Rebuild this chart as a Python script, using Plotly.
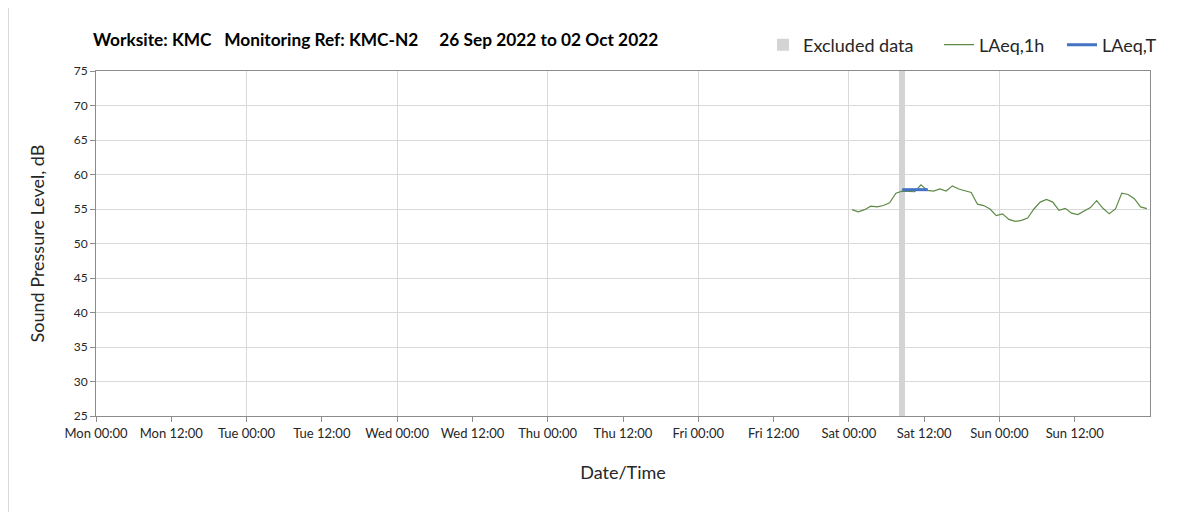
import plotly.graph_objects as go
import pandas as pd

# ---- data ----
title_text = "Worksite: KMC\u00a0\u00a0\u00a0Monitoring Ref: KMC-N2\u00a0\u00a0\u00a0\u00a0\u00a026 Sep 2022 to 02 Oct 2022"

# hourly LAeq,1h values (plotted at mid-hour), Sat 01 Oct 00:00 -> Sun 02 Oct 23:00
laeq_1h_start = "2022-10-01 00:30"
laeq_1h = [
    54.9, 54.6, 54.9, 55.4, 55.3, 55.5, 55.9, 57.3, 57.6, 57.6, 57.5, 58.5,
    57.7, 57.6, 57.9, 57.6, 58.35, 57.9, 57.7, 57.4, 55.7, 55.5, 55.0, 54.05,
    54.3, 53.5, 53.2, 53.35, 53.7, 55.0, 56.0, 56.4, 56.0, 54.8, 55.1, 54.4,
    54.2, 54.7, 55.2, 56.2, 55.1, 54.3, 55.0, 57.3, 57.1, 56.5, 55.3, 55.05,
]

laeq_t_times = ["2022-10-01 08:30", "2022-10-01 12:35"]
laeq_t_values = [57.8, 57.8]

excluded_center = ["2022-10-01 08:28"]
excluded_top = [75]
excluded_base = 25
excluded_width_ms = 0.9 * 3600 * 1000

tick_vals = ["2022-09-26 00:00", "2022-09-26 12:00", "2022-09-27 00:00", "2022-09-27 12:00",
             "2022-09-28 00:00", "2022-09-28 12:00", "2022-09-29 00:00", "2022-09-29 12:00",
             "2022-09-30 00:00", "2022-09-30 12:00", "2022-10-01 00:00", "2022-10-01 12:00",
             "2022-10-02 00:00", "2022-10-02 12:00"]
tick_text = ["Mon 00:00", "Mon 12:00", "Tue 00:00", "Tue 12:00", "Wed 00:00", "Wed 12:00",
             "Thu 00:00", "Thu 12:00", "Fri 00:00", "Fri 12:00", "Sat 00:00", "Sat 12:00",
             "Sun 00:00", "Sun 12:00"]
x_range = ["2022-09-26 00:00", "2022-10-03 00:00"]
y_range = [25, 75]

laeq_1h_times = pd.date_range(laeq_1h_start, periods=len(laeq_1h), freq="h")

FONT = "Lato, 'Open Sans', sans-serif"

# page body has an 8px margin; the figure is sized to fit the window
W, H = 1195, 504
L, R, T, B = 88, 53, 63, 96
PW, PH = W - L - R, H - T - B


def lx(page_x):
    return (page_x - 8 - L) / PW


LEG_Y = (T + PH - 37) / PH

fig = go.Figure()
fig.add_trace(go.Bar(
    x=excluded_center, y=[t - excluded_base for t in excluded_top], base=excluded_base,
    width=excluded_width_ms, marker=dict(color="#d4d4d4", line=dict(width=0)),
    name="Excluded data", hoverinfo="skip", legend="legend",
))
fig.add_trace(go.Scatter(
    x=laeq_1h_times, y=laeq_1h, mode="lines", name="LAeq,1h",
    line=dict(color="#5e8a47", width=1.2), legend="legend2",
))
fig.add_trace(go.Scatter(
    x=laeq_t_times, y=laeq_t_values, mode="lines", name="LAeq,T",
    line=dict(color="#4472c4", width=3), legend="legend3",
))

leg_common = dict(orientation="h", xanchor="left", y=LEG_Y, yanchor="middle",
                  font=dict(size=18, color="#262626"), itemwidth=30,
                  bgcolor="rgba(0,0,0,0)")

fig.update_layout(
    width=W, height=H,
    margin=dict(l=L, r=R, t=T, b=B, autoexpand=False),
    paper_bgcolor="white", plot_bgcolor="white",
    font=dict(family=FONT, color="#262626"),
    title=dict(text="<b>" + title_text + "</b>", x=85 / W, xanchor="left",
               y=1 - 32 / H, yanchor="middle", yref="container",
               font=dict(size=17.3, color="#000000", family=FONT)),
    showlegend=True,
    legend=dict(x=lx(763), **leg_common),
    legend2=dict(x=lx(939), **leg_common),
    legend3=dict(x=lx(1062), **leg_common),
    bargap=0,
    xaxis=dict(
        type="date", range=x_range, tickmode="array", tickvals=tick_vals, ticktext=tick_text,
        showgrid=False, ticks="outside", ticklen=5, tickcolor="#8c8c8c",
        showline=True, linecolor="#8c8c8c", linewidth=1, mirror=True,
        tickfont=dict(size=13, color="#262626"),
        title=dict(text="Date/Time", font=dict(size=18, color="#262626"), standoff=26),
        minor=dict(tickmode="linear", tick0="2022-09-26", dtick=86400000,
                   showgrid=True, gridcolor="#d9d9d9", gridwidth=1, ticks=""),
        zeroline=False,
    ),
    yaxis=dict(
        range=y_range, dtick=5, showgrid=True, gridcolor="#d9d9d9", gridwidth=1,
        ticks="outside", ticklen=5, tickcolor="#8c8c8c",
        showline=True, linecolor="#8c8c8c", linewidth=1, mirror=True,
        tickfont=dict(size=12, color="#262626"),
        title=dict(text="Sound Pressure Level, dB", font=dict(size=18, color="#262626"), standoff=24),
        zeroline=False,
    ),
)

# outer chart frame (left edge visible in reference)
fig.add_shape(type="line", xref="paper", yref="paper",
              x0=(0.5 - L) / PW, x1=(0.5 - L) / PW, y0=-B / PH, y1=1 + T / PH,
              line=dict(color="#d9d9d9", width=1), layer="below")

fig.write_html("out.html")
